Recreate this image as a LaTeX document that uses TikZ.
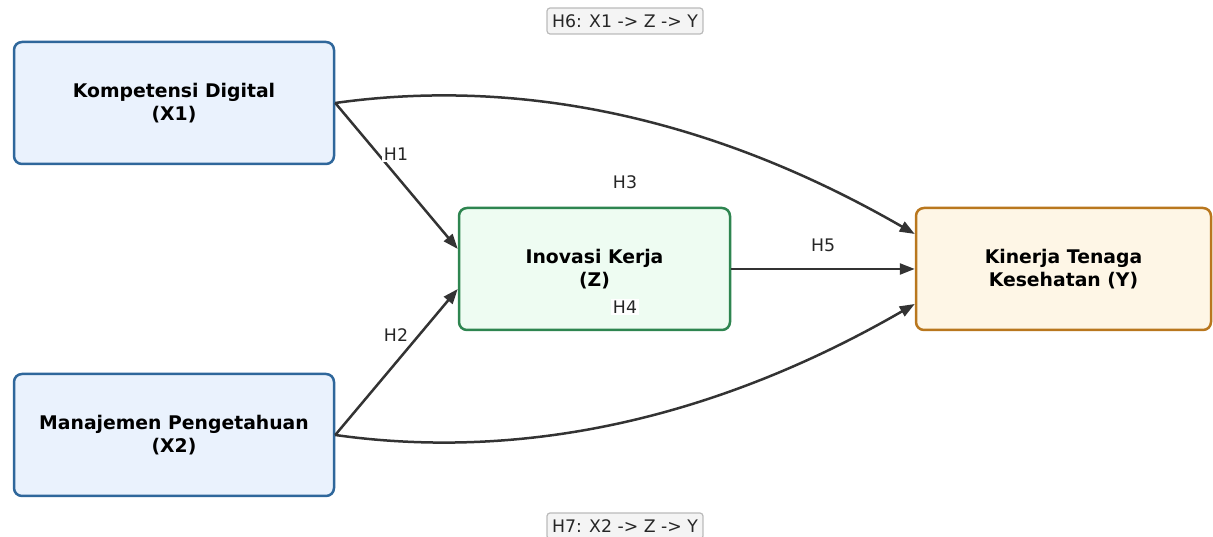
\documentclass[tikz,border=0pt]{standalone}
\usepackage{fontspec}
\setmainfont{DejaVu Sans}
\usetikzlibrary{arrows.meta}
\definecolor{xfill}{HTML}{EAF2FD}
\definecolor{xdraw}{HTML}{2F679B}
\definecolor{zfill}{HTML}{EEFCF2}
\definecolor{zdraw}{HTML}{2E8550}
\definecolor{yfill}{HTML}{FEF6E6}
\definecolor{ydraw}{HTML}{B9771E}
\definecolor{arr}{HTML}{333333}
\definecolor{hfill}{HTML}{F4F4F4}
\definecolor{hdraw}{HTML}{BBBBBB}
\tikzset{
  varbox/.style={rounded corners=8pt, line width=2.5pt, inner sep=0pt,
    align=center, font=\fontsize{18.8}{23}\selectfont\bfseries},
  conn/.style={draw=arr, line width=2.5pt, -{Triangle[length=15pt,width=11pt]}},
  hlabel/.style={fill=white, inner sep=2pt, text=black!85,
    font=\fontsize{17.3}{20}\selectfont},
  hbox/.style={fill=hfill, draw=hdraw, line width=1.2pt, rounded corners=3pt,
    inner xsep=5pt, inner ysep=0pt, minimum height=26pt, text=black!85,
    font=\fontsize{17.3}{20}\selectfont}
}
\begin{document}
\begin{tikzpicture}[x=1pt,y=1pt]
\useasboundingbox (0,0) rectangle (1213,537);
\node[varbox, fill=xfill, draw=xdraw, minimum width=320pt, minimum height=122pt] (x1) at (174,434) {Kompetensi Digital\\(X1)};
\node[varbox, fill=xfill, draw=xdraw, minimum width=320pt, minimum height=122pt] (x2) at (174,102) {Manajemen Pengetahuan\\(X2)};
\node[varbox, fill=zfill, draw=zdraw, minimum width=271pt, minimum height=122pt] (z) at (594.5,268) {Inovasi Kerja\\(Z)};
\node[varbox, fill=yfill, draw=ydraw, minimum width=295pt, minimum height=122pt] (y) at (1063.5,268) {Kinerja Tenaga\\Kesehatan (Y)};

\draw[conn] (x1.east) .. controls +(8:189) and +(150:230) .. ([yshift=35pt]y.west);
\draw[conn] (x2.east) .. controls +(-8:189) and +(210:230) .. ([yshift=-35pt]y.west);
\draw[conn] (x1.east) -- ([yshift=20pt]z.west);
\draw[conn] (x2.east) -- ([yshift=-20pt]z.west);
\draw[conn] (z.east) -- (y.west);

\node[hlabel] (h1) at (396,383) {H1};
\node[hlabel] (h2) at (396,202) {H2};
\node[hlabel] (h3) at (625,355) {H3};
\node[hlabel] (h4) at (625,230) {H4};
\node[hlabel, fill=none] (h5) at (823,292) {H5};
\node[hbox] (h6) at (625,516) {H6: X1 -> Z -> Y};
\node[hbox] (h7) at (625,11) {H7: X2 -> Z -> Y};
\end{tikzpicture}
\end{document}
